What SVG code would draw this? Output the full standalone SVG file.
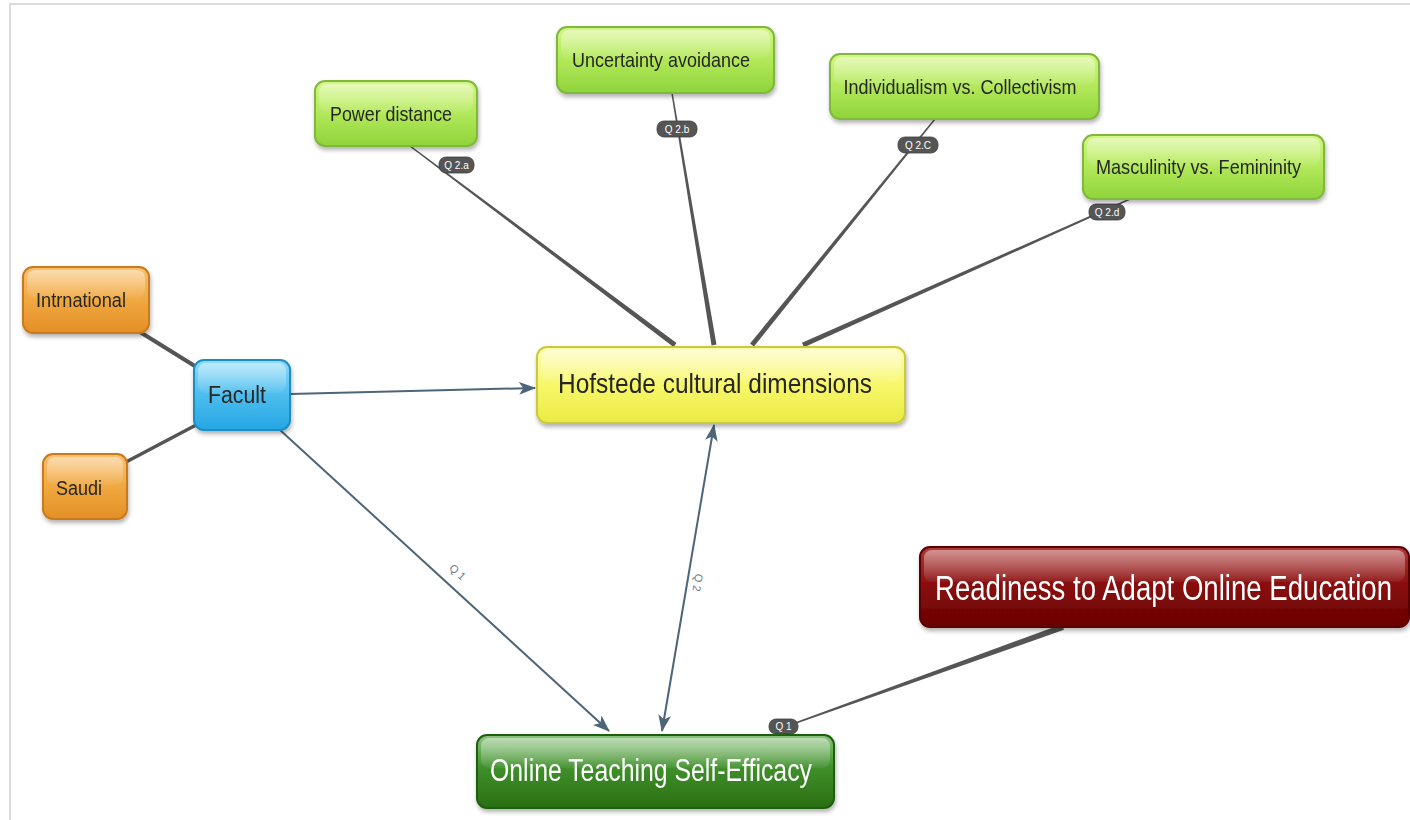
<svg xmlns="http://www.w3.org/2000/svg" width="1410" height="820" viewBox="0 0 1410 820">
<defs>
<style>
.t{font-family:"Liberation Sans",Arial,sans-serif;fill:#262626;text-anchor:middle}
.tw{font-family:"Liberation Sans",Arial,sans-serif;fill:#ffffff;text-anchor:middle}
.pill{fill:#555555;stroke:#3c3c3c;stroke-width:0.8}
.pt{font-family:"Liberation Sans",Arial,sans-serif;font-size:10px;fill:#ffffff;text-anchor:middle}
.taper{fill:#555555}
.thick{stroke:#555555;fill:none;stroke-linecap:round}
.arr{stroke:#4d6579;stroke-width:2;fill:none}
.lbl{font-family:"Liberation Sans",Arial,sans-serif;font-size:11px;fill:#6d7c88;text-anchor:middle}
.gloss{fill:url(#gloss)}
</style>
<filter id="sh" x="-10%" y="-10%" width="120%" height="140%">
<feDropShadow dx="1" dy="3" stdDeviation="2" flood-color="#000" flood-opacity="0.3"/>
</filter>
<linearGradient id="gGreen" x1="0" y1="0" x2="0" y2="1">
<stop offset="0" stop-color="#d4f783"/><stop offset="0.5" stop-color="#b2e85a"/><stop offset="1" stop-color="#8ed43a"/>
</linearGradient>
<linearGradient id="gOrange" x1="0" y1="0" x2="0" y2="1">
<stop offset="0" stop-color="#f9c070"/><stop offset="0.5" stop-color="#f0a840"/><stop offset="1" stop-color="#e48f26"/>
</linearGradient>
<linearGradient id="gBlue" x1="0" y1="0" x2="0" y2="1">
<stop offset="0" stop-color="#8fdcf7"/><stop offset="0.5" stop-color="#4cbdee"/><stop offset="1" stop-color="#25a7e3"/>
</linearGradient>
<linearGradient id="gYellow" x1="0" y1="0" x2="0" y2="1">
<stop offset="0" stop-color="#fdfdb0"/><stop offset="0.5" stop-color="#f7f76a"/><stop offset="1" stop-color="#eaea44"/>
</linearGradient>
<linearGradient id="gRed" x1="0" y1="0" x2="0" y2="1">
<stop offset="0" stop-color="#b03a3a"/><stop offset="0.45" stop-color="#8a1010"/><stop offset="1" stop-color="#6a0000"/>
</linearGradient>
<linearGradient id="gDGreen" x1="0" y1="0" x2="0" y2="1">
<stop offset="0" stop-color="#8cc47e"/><stop offset="0.45" stop-color="#3f8f2a"/><stop offset="1" stop-color="#2a6e14"/>
</linearGradient>
<linearGradient id="gloss" x1="0" y1="0" x2="0" y2="1">
<stop offset="0" stop-color="#ffffff" stop-opacity="0.45"/><stop offset="1" stop-color="#ffffff" stop-opacity="0.05"/>
</linearGradient>
<marker id="ah" viewBox="0 0 16 12" refX="15" refY="6" markerWidth="17" markerHeight="13" markerUnits="userSpaceOnUse" orient="auto-start-reverse">
<path d="M0,0 L16,6 L0,12 L4,6 Z" fill="#4d6579"/>
</marker>
</defs>

<rect x="0" y="0" width="1410" height="820" fill="#ffffff"/>
<path d="M10,820 L10,4 L1410,4" fill="none" stroke="#dcdcdc" stroke-width="2"/>

<g id="connectors">
<polygon class="taper" points="409.55,146.6 410.45,145.4 676.5,343 673.5,347"/>
<polygon class="taper" points="671.26,93.12 672.74,92.88 716.46,344.59 711.54,345.41"/>
<polygon class="taper" points="934.42,118.53 935.58,119.47 753.94,346.57 750.06,343.43"/>
<polygon class="taper" points="1129.69,198.32 1130.31,199.68 804.02,347.28 801.98,342.72"/>
<polygon class="taper" points="790.25,725.71 789.75,724.29 1061.99,624.18 1064.01,629.82"/>
<line class="thick" x1="140" y1="332" x2="198" y2="368" stroke-width="4"/>
<line class="thick" x1="126" y1="462" x2="198" y2="424" stroke-width="3.5"/>
<line class="arr" x1="290" y1="394" x2="535" y2="388" marker-end="url(#ah)"/>
<line class="arr" x1="280" y1="430" x2="609" y2="731" marker-end="url(#ah)"/>
<line class="arr" x1="714" y1="425" x2="662" y2="731" marker-start="url(#ah)" marker-end="url(#ah)"/>
<text class="lbl" transform="translate(455,575) rotate(42.5)">Q 1</text>
<text class="lbl" transform="translate(694,582) rotate(99.6)">Q 2</text>
</g>

<g id="labels">
<rect class="pill" x="439" y="157" width="35" height="16" rx="7"/>
<text class="pt" x="456.5" y="168.5">Q 2.a</text>
<rect class="pill" x="657" y="121" width="40" height="16" rx="7"/>
<text class="pt" x="677" y="132.5">Q 2.b</text>
<rect class="pill" x="898" y="137" width="40" height="16" rx="7"/>
<text class="pt" x="918" y="148.5">Q 2.C</text>
<rect class="pill" x="1089" y="204" width="36" height="16" rx="7"/>
<text class="pt" x="1107" y="215.5">Q 2.d</text>
<rect class="pill" x="769" y="719" width="29" height="15" rx="7"/>
<text class="pt" x="783.5" y="730">Q 1</text>
</g>

<g id="power-distance" filter="url(#sh)">
<rect x="315" y="81" width="162" height="65" rx="10" fill="url(#gGreen)" stroke="#7fb83c" stroke-width="2"/>
<rect class="gloss" x="319" y="84" width="154" height="28" rx="8"/>
<text class="t" x="391" y="121" font-size="21" textLength="122" lengthAdjust="spacingAndGlyphs">Power distance</text>
</g>

<g id="uncertainty-avoidance" filter="url(#sh)">
<rect x="557" y="27" width="217" height="66" rx="10" fill="url(#gGreen)" stroke="#7fb83c" stroke-width="2"/>
<rect class="gloss" x="561" y="30" width="209" height="28" rx="8"/>
<text class="t" x="661" y="67" font-size="21" textLength="178" lengthAdjust="spacingAndGlyphs">Uncertainty avoidance</text>
</g>

<g id="individualism" filter="url(#sh)">
<rect x="830" y="54" width="269" height="65" rx="10" fill="url(#gGreen)" stroke="#7fb83c" stroke-width="2"/>
<rect class="gloss" x="834" y="57" width="261" height="28" rx="8"/>
<text class="t" x="960" y="94" font-size="21" textLength="233" lengthAdjust="spacingAndGlyphs">Individualism vs. Collectivism</text>
</g>

<g id="masculinity" filter="url(#sh)">
<rect x="1083" y="135" width="241" height="64" rx="10" fill="url(#gGreen)" stroke="#7fb83c" stroke-width="2"/>
<rect class="gloss" x="1087" y="138" width="233" height="28" rx="8"/>
<text class="t" x="1198.5" y="174" font-size="21" textLength="205" lengthAdjust="spacingAndGlyphs">Masculinity vs. Femininity</text>
</g>

<g id="intrnational" filter="url(#sh)">
<rect x="23" y="267" width="126" height="66" rx="10" fill="url(#gOrange)" stroke="#c97a1e" stroke-width="2"/>
<rect class="gloss" x="27" y="270" width="118" height="28" rx="8"/>
<text class="t" x="81" y="307" font-size="20" textLength="90" lengthAdjust="spacingAndGlyphs">Intrnational</text>
</g>

<g id="saudi" filter="url(#sh)">
<rect x="43" y="454" width="84" height="65" rx="10" fill="url(#gOrange)" stroke="#c97a1e" stroke-width="2"/>
<rect class="gloss" x="47" y="457" width="76" height="28" rx="8"/>
<text class="t" x="79" y="495" font-size="20" textLength="46" lengthAdjust="spacingAndGlyphs">Saudi</text>
</g>

<g id="facult" filter="url(#sh)">
<rect x="194" y="360" width="96" height="70" rx="10" fill="url(#gBlue)" stroke="#1d8cc4" stroke-width="2"/>
<rect class="gloss" x="198" y="363" width="88" height="30" rx="8"/>
<text class="t" x="237" y="403" font-size="23" textLength="58" lengthAdjust="spacingAndGlyphs">Facult</text>
</g>

<g id="hofstede" filter="url(#sh)">
<rect x="537" y="347" width="368" height="76" rx="10" fill="url(#gYellow)" stroke="#c9c93c" stroke-width="2"/>
<rect class="gloss" x="541" y="350" width="360" height="32" rx="8"/>
<text class="t" x="715" y="393" font-size="28" textLength="314" lengthAdjust="spacingAndGlyphs">Hofstede cultural dimensions</text>
</g>

<g id="readiness" filter="url(#sh)">
<rect x="920" y="547" width="489" height="80" rx="10" fill="url(#gRed)" stroke="#5a0000" stroke-width="2"/>
<rect class="gloss" x="924" y="550" width="481" height="32" rx="8"/>
<text class="tw" transform="translate(1163.5,600) scale(1,1.25)" x="0" y="0" font-size="28" textLength="457" lengthAdjust="spacingAndGlyphs">Readiness to Adapt Online Education</text>
</g>

<g id="online-teaching" filter="url(#sh)">
<rect x="477" y="735" width="357" height="73" rx="10" fill="url(#gDGreen)" stroke="#1f5e0e" stroke-width="2"/>
<rect class="gloss" x="481" y="738" width="349" height="30" rx="8"/>
<text class="tw" x="651" y="781" font-size="31" textLength="322" lengthAdjust="spacingAndGlyphs">Online Teaching Self-Efficacy</text>
</g>
</svg>
